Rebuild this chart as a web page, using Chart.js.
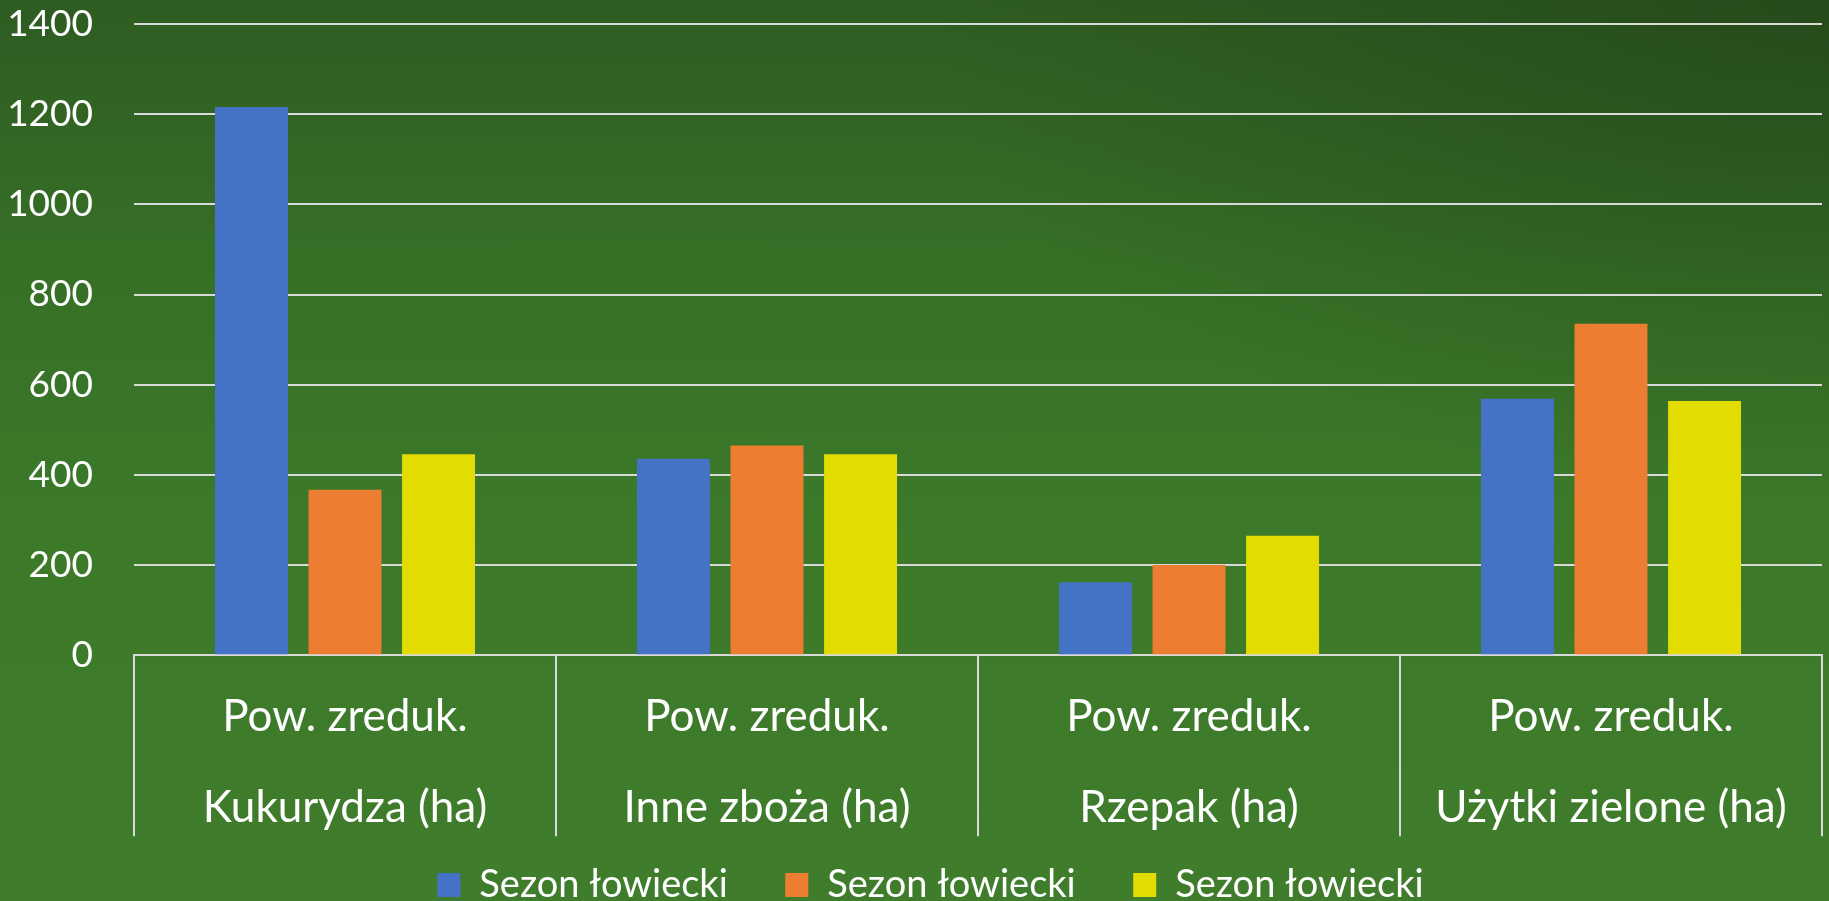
<!DOCTYPE html>
<html>
<head>
<meta charset="utf-8">
<script src="https://cdn.jsdelivr.net/npm/chart.js@4"></script>
<style>
  html, body { margin: 0; padding: 0; overflow: hidden; width: 1829px; height: 901px; }
  body {
    background:
      radial-gradient(ellipse 900px 500px at 100% 0%, rgba(30,60,20,0.55) 0%, rgba(30,60,20,0) 100%),
      linear-gradient(to bottom, #2e5c22 0%, #367026 30%, #3c7a2a 60%, #3f7d2c 100%);
  }
  #wrap { position: absolute; left: 0; top: 0; width: 1829px; height: 901px; }
</style>
</head>
<body>
<div id="wrap"><canvas id="c"></canvas></div>
<script>
const categories = [
  ['Pow. zreduk.', 'Kukurydza (ha)'],
  ['Pow. zreduk.', 'Inne zboża (ha)'],
  ['Pow. zreduk.', 'Rzepak (ha)'],
  ['Pow. zreduk.', 'Użytki zielone (ha)']
];
const seriesNames = ['Sezon łowiecki', 'Sezon łowiecki', 'Sezon łowiecki'];
const series1 = [1216, 436, 162, 569];
const series2 = [367, 465, 200, 735];
const series3 = [446, 446, 265, 564];
const colors = ['#4472C4', '#ED7D31', '#E3DC00'];
const yMin = 0, yMax = 1400, yStep = 200;

const gridColor = '#d9d9d9';

// place the built-in legend like the reference (slightly right of centre, near the bottom edge)
const legendPlace = {
  id: 'legendPlace',
  afterLayout(chart) {
    const lg = chart.legend;
    if (!lg) return;
    lg.left += 19.5;
    lg.right += 19.5;
    lg.top = 808.5;
    lg.bottom = 905;
    lg.height = lg.bottom - lg.top;
  }
};

new Chart(document.getElementById('c'), {
  type: 'bar',
  data: {
    labels: categories,
    datasets: [series1, series2, series3].map((d, i) => ({
      label: seriesNames[i],
      data: d,
      backgroundColor: colors[i],
      borderWidth: 0,
      categoryPercentage: 0.665,
      barPercentage: 0.78
    }))
  },
  plugins: [legendPlace],
  options: {
    responsive: true,
    maintainAspectRatio: false,
    animation: false,
    layout: { padding: { top: 24, left: 0, right: 7, bottom: 0 } },
    plugins: {
      tooltip: { enabled: false },
      legend: {
        position: 'bottom',
        maxHeight: 50,
        labels: {
          color: '#ffffff',
          font: { family: 'Lato', size: 38 },
          boxWidth: 23,
          boxHeight: 24,
          padding: 57.5
        }
      }
    },
    scales: {
      x: {
        grid: {
          display: true,
          drawOnChartArea: false,
          drawTicks: true,
          tickLength: 181,
          color: gridColor,
          lineWidth: 2,
          offset: true
        },
        border: { display: true, color: gridColor, width: 2 },
        ticks: {
          color: '#ffffff',
          font: { family: 'Lato', size: 44, lineHeight: 2.075 },
          padding: -165,
          maxRotation: 0,
          autoSkip: false
        },
        afterFit: (s) => { s.height = 195.7; }
      },
      y: {
        min: yMin,
        max: yMax,
        grid: {
          color: gridColor,
          lineWidth: 2,
          drawTicks: false
        },
        border: { display: false },
        ticks: {
          stepSize: yStep,
          color: '#ffffff',
          font: { family: 'Lato', size: 37 },
          padding: 41,
          callback: (v) => String(v)
        },
        afterFit: (s) => { s.width = 134; s.paddingTop = 22; s.paddingBottom = 22; }
      }
    }
  }
});
</script>
</body>
</html>
